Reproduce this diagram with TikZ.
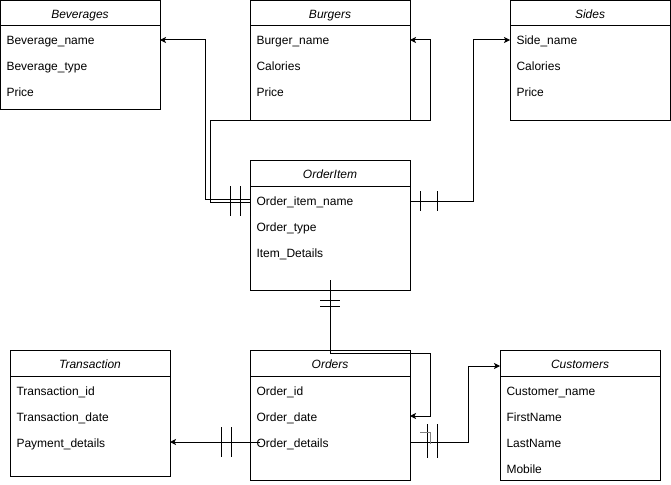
\documentclass[tikz,border=0pt]{standalone}
\usepackage{fontspec}
\setmainfont{Liberation Sans}
\usetikzlibrary{arrows.meta}
\begin{document}
\begin{tikzpicture}[x=1pt,y=-1pt,line width=1pt,
  entity/.style={draw,line width=1pt,inner sep=0pt,outer sep=0pt,anchor=north west,minimum width=160pt},
  field/.style={anchor=base west,inner sep=0pt,yshift=-1pt,font=\fontsize{12}{14}\selectfont},
  ttl/.style={anchor=base,inner sep=0pt,yshift=-1pt,font=\fontsize{12}{14}\selectfont\itshape},
  conn/.style={line width=1pt},
  arr/.style={-{Stealth[length=6pt,width=6pt,inset=1.5pt]}},
  barline/.style={line width=1pt}]
\useasboundingbox (0,0) rectangle (671,484);
% entities
\node[entity,minimum height=109pt] (bev) at (0,1) {};
\node[entity,minimum height=119pt] (bur) at (250,1) {};
\node[entity,minimum height=119pt] (sid) at (510,1) {};
\node[entity,minimum height=130pt] (oi) at (250,160) {};
\node[entity,minimum height=126pt] (tra) at (10,350) {};
\node[entity,minimum height=130pt] (ord) at (250,350) {};
\node[entity,minimum height=130pt] (cus) at (500,350) {};
% header separators
\draw (0,26) -- (160,26);
\draw (250,26) -- (410,26);
\draw (510,26) -- (670,26);
\draw (250,186) -- (410,186);
\draw (10,376) -- (170,376);
\draw (250,376) -- (410,376);
\draw (500,376) -- (660,376);
% titles
\node[ttl] (bevt) at (80,18) {Beverages};
\node[ttl] (burt) at (330,18) {Burgers};
\node[ttl] (sidt) at (590,18) {Sides};
\node[ttl] (oit) at (330,177.5) {OrderItem};
\node[ttl] (trat) at (90,367.5) {Transaction};
\node[ttl] (ordt) at (330,367.5) {Orders};
\node[ttl] (cust) at (580,367.5) {Customers};
% fields
\node[field] (bev1) at (6,44) {Beverage\_name};
\node[field] (bev2) at (6,70) {Beverage\_type};
\node[field] (bev3) at (6,96) {Price};
\node[field] (bur1) at (256,44) {Burger\_name};
\node[field] (bur2) at (256,70) {Calories};
\node[field] (bur3) at (256,96) {Price};
\node[field] (sid1) at (516,44) {Side\_name};
\node[field] (sid2) at (516,70) {Calories};
\node[field] (sid3) at (516,96) {Price};
\node[field] (oi1) at (256,204) {Order\_item\_name};
\node[field] (oi2) at (256,230) {Order\_type};
\node[field] (oi3) at (256,256) {Item\_Details};
\node[field] (tra1) at (16,394) {Transaction\_id};
\node[field] (tra2) at (16,420) {Transaction\_date};
\node[field] (tra3) at (16,446) {Payment\_details};
\node[field] (ord1) at (256,394) {Order\_id};
\node[field] (ord2) at (256,420) {Order\_date};
\node[field] (ord3) at (256,446) {Order\_details};
\node[field] (cus1) at (506,394) {Customer\_name};
\node[field] (cus2) at (506,420) {FirstName};
\node[field] (cus3) at (506,446) {LastName};
\node[field] (cus4) at (506,472) {Mobile};
% connectors
\draw[conn,arr] (oi.west |- 0,199.5) -| (205,40) -- (bev.east |- 0,40);
\draw[conn,arr] (oi.west |- 0,202) -| (210,120) -| (430,40) -- (bur.east |- 0,40);
\draw[barline] (230,186) -- (230,216);
\draw[barline] (240,186) -- (240,216);
\draw[conn,arr] (oi.east |- 0,201) -| (473,40) -- (sid.west |- 0,40);
\draw[barline] (420,191) -- (420,211);
\draw[barline] (437,191) -- (437,211);
\coordinate (oistart) at (330,280);
\draw[conn,arr] (oistart) |- (430,353) |- (ord.east |- 0,416);
\draw[barline] (320,300) -- (340,300);
\draw[barline] (320,306) -- (340,306);
\coordinate (ordstart) at (260,442);
\draw[conn,arr] (ordstart) -- (tra.east |- 0,442);
\draw[barline] (221,427) -- (221,457);
\draw[barline] (231,427) -- (231,457);
\draw[conn,arr] (ord.east |- 0,442) -| (468,366) -- (cus.west |- 0,366);
\draw[barline] (427,424) -- (427,458);
\draw[barline] (437,424) -- (437,458);
\draw[line width=0.6pt,gray] (420,432) -- (430,432) -- (430,444);
\end{tikzpicture}
\end{document}
